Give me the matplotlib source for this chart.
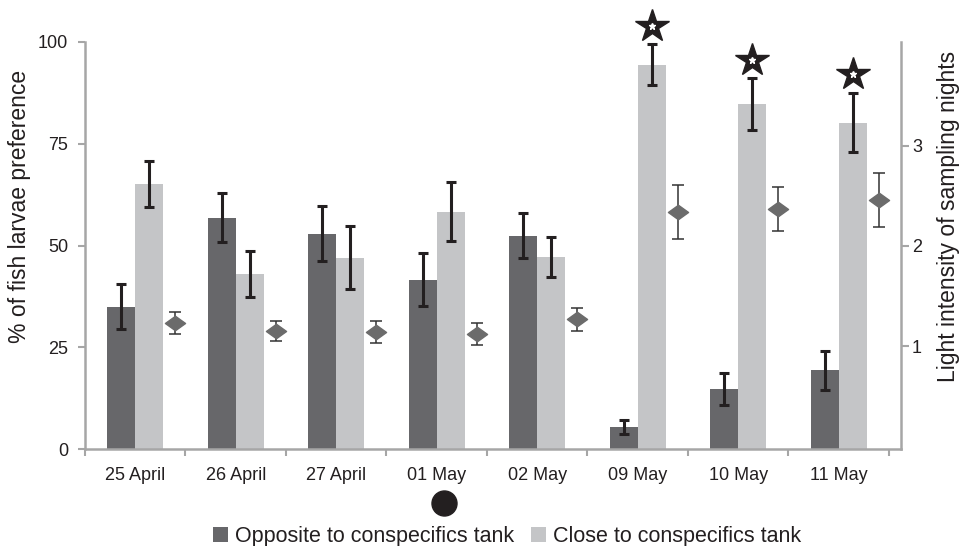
import numpy as np
import matplotlib.pyplot as plt
from matplotlib.path import Path
import matplotlib.transforms as mtransforms

plt.rcParams['font.family'] = ['Liberation Sans', 'DejaVu Sans']

# Data
days = ["25 April", "26 April", "27 April", "01 May", "02 May", "09 May", "10 May", "11 May"]
opposite = [35.0, 56.8, 52.9, 41.6, 52.4, 5.4, 14.7, 19.3]
opposite_err = [5.6, 6.0, 6.8, 6.5, 5.5, 1.8, 4.0, 4.8]
close = [65.1, 43.0, 47.0, 58.3, 47.2, 94.4, 84.8, 80.2]
close_err = [5.7, 5.6, 7.8, 7.2, 5.0, 5.0, 6.3, 7.3]
light = [1.23, 1.15, 1.14, 1.12, 1.27, 2.34, 2.37, 2.46]
light_err = [0.11, 0.10, 0.11, 0.11, 0.115, 0.27, 0.22, 0.27]
significant = ["09 May", "10 May", "11 May"]
full_moon = ["01 May"]

dark_col = "#67676a"
pale_col = "#c4c5c7"
axis_col = "#a6a6a6"
ink = "#231f20"

fig = plt.figure(figsize=(9.62, 5.46), dpi=100)
ax = fig.add_axes([85 / 962, 1 - 449 / 546, (901 - 85) / 962, 407 / 546])

x = np.arange(len(days))
w = 0.28
ax.bar(x - w / 2, opposite, w, color=dark_col, label="Opposite to conspecifics tank", zorder=2)
ax.bar(x + w / 2, close, w, color=pale_col, label="Close to conspecifics tank", zorder=2)
ax.errorbar(x - w / 2, opposite, yerr=opposite_err, fmt="none", ecolor=ink,
            elinewidth=2.2, capsize=3.6, capthick=2.2, zorder=3)
ax.errorbar(x + w / 2, close, yerr=close_err, fmt="none", ecolor=ink,
            elinewidth=2.2, capsize=3.6, capthick=2.2, zorder=3)

ax.set_xlim(-0.5, 7.62)
ax.set_ylim(0, 100)
ax.set_yticks([0, 25, 50, 75, 100])
ax.set_xticks(x)
ax.set_xticklabels(days)
ax.set_xticks(np.arange(-0.5, 8, 1), minor=True)
ax.tick_params(axis="x", which="major", length=0, pad=13, labelsize=13, labelcolor=ink)
ax.tick_params(axis="x", which="minor", length=5, width=1.5, color=axis_col, direction="out")
ax.tick_params(axis="y", length=5, width=1.5, color=axis_col, pad=7, labelsize=13, labelcolor=ink)
for s in ["top", "right"]:
    ax.spines[s].set_visible(False)
for s in ["left", "bottom"]:
    ax.spines[s].set_color(axis_col)
    ax.spines[s].set_linewidth(1.8)
ax.set_ylabel("% of fish larvae preference", fontsize=16.5, color=ink)
ax.yaxis.set_label_coords(-0.066, 0.595)

# stars above the significant days
for d in significant:
    i = days.index(d)
    top = close[i] + close_err[i]
    ax.plot(i + w / 2, top + 4.6, marker="*", ms=25, color=ink, mec=ink, clip_on=False, zorder=5)
    ax.plot(i + w / 2, top + 4.6, marker="*", ms=5, color="white", mec="white", clip_on=False, zorder=6)

# full moon marker below the axis
trans = mtransforms.blended_transform_factory(ax.transData, ax.transAxes)
for d in full_moon:
    i = days.index(d)
    ax.plot(i + 0.07, -0.132, marker="o", ms=18, color=ink, transform=trans, clip_on=False)

# light intensity on the secondary axis
ax2 = ax.twinx()
diamond = Path([(-1, 0), (0, 0.72), (1, 0), (0, -0.72), (-1, 0)],
               [Path.MOVETO, Path.LINETO, Path.LINETO, Path.LINETO, Path.CLOSEPOLY])
ax2.errorbar(x + 0.40, light, yerr=light_err, fmt="none", ecolor="#333333",
             elinewidth=1.1, capsize=4.2, capthick=1.1, zorder=3)
ax2.plot(x + 0.40, light, linestyle="none", marker=diamond, ms=14.5, color="#6b6b6b", zorder=4)
ax2.set_ylim(-0.027, 4.035)
ax2.set_yticks([1, 2, 3])
ax2.tick_params(axis="y", length=6, width=1.5, color=axis_col, pad=2, labelsize=13, labelcolor=ink)
for s in ["top", "left", "bottom"]:
    ax2.spines[s].set_visible(False)
ax2.spines["right"].set_color(axis_col)
ax2.spines["right"].set_linewidth(1.8)
ax2.set_ylabel("Light intensity of sampling nights", fontsize=16.5, color=ink)
ax2.yaxis.set_label_coords(1.044, 0.572)

fig.legend(*ax.get_legend_handles_labels(), loc="center", bbox_to_anchor=(0.527, 0.018),
           ncol=2, frameon=False, fontsize=15.5, handlelength=0.7, handleheight=0.7,
           handletextpad=0.3, columnspacing=0.8, labelcolor=ink)

fig.savefig("out.png", dpi=100)
